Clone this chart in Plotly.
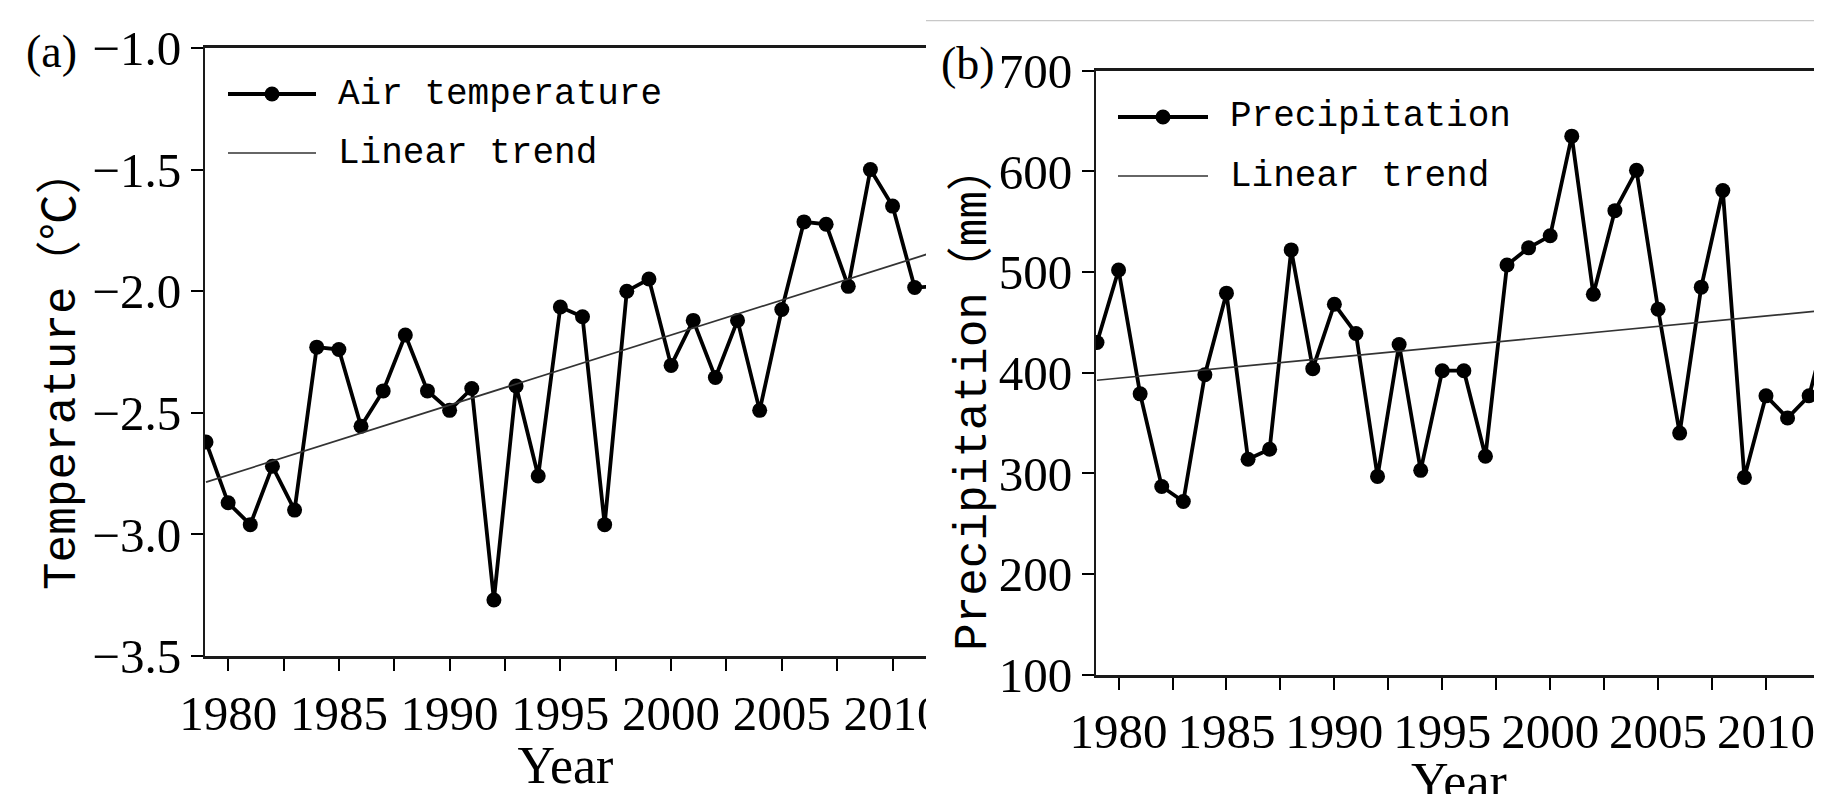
import plotly.graph_objects as go

# ---------------- data ----------------
years_a = list(range(1979, 2013))
air_temperature = [-2.62, -2.87, -2.96, -2.72, -2.90, -2.23, -2.24, -2.555, -2.41, -2.18,
                   -2.41, -2.49, -2.40, -3.27, -2.39, -2.76, -2.065, -2.105, -2.96, -2.00,
                   -1.95, -2.305, -2.12, -2.355, -2.12, -2.49, -2.075, -1.715, -1.725, -1.98,
                   -1.50, -1.65, -1.985, -1.98]
trend_a_years = [1979, 2012]
trend_a_values = [-2.785, -1.835]

years_b = list(range(1979, 2014))
precipitation = [430, 502, 379, 287, 272, 398, 479, 314, 324, 522,
                 404, 468, 439, 297, 428, 303, 402, 402, 317, 507,
                 524, 536, 635, 478, 561, 601, 463, 340, 485, 581,
                 296, 377, 355, 377, 460]
trend_b_years = [1979, 2013]
trend_b_values = [392.5, 462.5]

legend_a = ["Air temperature", "Linear trend"]
legend_b = ["Precipitation", "Linear trend"]
title_a = "Temperature（℃）"
title_b = "Precipitation（mm）"
x_title = "Year"

# ---------------- style ----------------
# the page body has an 8 px margin, so the figure starts at (8, 8) in the window
OFF = 8
W, H = 1822 - OFF, 794 - OFF
SERIF = "Liberation Serif, Times New Roman, serif"
MONO = "Liberation Mono, Noto Sans CJK SC, monospace"
TICKFONT = dict(family=SERIF, size=49, color="black")
LINE_W = 3.8
MARKER = 15


def px(x):
    return (x - OFF) / W


def py(y):
    return 1 - (y - OFF) / H


fig = go.Figure()

# panel (a)
fig.add_trace(go.Scatter(x=years_a, y=air_temperature, mode="lines+markers",
                         line=dict(color="black", width=LINE_W),
                         marker=dict(color="black", size=MARKER),
                         xaxis="x", yaxis="y", showlegend=False, name=legend_a[0]))
fig.add_trace(go.Scatter(x=trend_a_years, y=trend_a_values, mode="lines",
                         line=dict(color="#333333", width=1.7),
                         xaxis="x", yaxis="y", showlegend=False, name=legend_a[1]))
# panel (b)
fig.add_trace(go.Scatter(x=years_b, y=precipitation, mode="lines+markers",
                         line=dict(color="black", width=LINE_W),
                         marker=dict(color="black", size=MARKER),
                         xaxis="x2", yaxis="y2", showlegend=False, name=legend_b[0]))
fig.add_trace(go.Scatter(x=trend_b_years, y=trend_b_values, mode="lines",
                         line=dict(color="#333333", width=1.7),
                         xaxis="x2", yaxis="y2", showlegend=False, name=legend_b[1]))

common_x = dict(tickmode="linear", tick0=1980, dtick=5, ticks="outside", ticklen=12,
                tickwidth=1.5, tickcolor="black", showline=True, linewidth=2.6,
                linecolor="#1a1a1a", mirror=True, showgrid=False, zeroline=False,
                tickfont=TICKFONT, automargin=False,
                minor=dict(tick0=1980, dtick=2.5, ticks="outside", ticklen=12,
                           tickwidth=1.5, tickcolor="black", showgrid=False))
common_y = dict(ticks="outside", ticklen=12, tickwidth=1.5, tickcolor="black",
                showline=True, linewidth=1.7, linecolor="#1a1a1a", mirror=False,
                showgrid=False, zeroline=False, tickfont=TICKFONT, automargin=False)

fig.update_layout(
    width=W, height=H,
    margin=dict(l=0, r=0, t=0, b=0, pad=0, autoexpand=False),
    paper_bgcolor="white", plot_bgcolor="white",
    xaxis=dict(domain=[px(205), px(926)], anchor="y", range=[1978.955, 2011.51],
               title=dict(text=x_title, font=dict(family=SERIF, size=52, color="black"),
                          standoff=2),
               **common_x),
    yaxis=dict(domain=[py(656), py(48)], anchor="x", range=[-3.5, -1.0],
               tickmode="linear", tick0=-3.5, dtick=0.5, tickformat=".1f",
               **common_y),
    xaxis2=dict(domain=[px(1096), 1.0], anchor="y2", range=[1978.954, 2012.596],
                **common_x),
    yaxis2=dict(domain=[py(674.7), py(70.7)], anchor="x2", range=[100, 700],
                tickmode="linear", tick0=100, dtick=100,
                **common_y),
)

shapes = []
annotations = []


def legend_entry(x0, x1, y, label, with_marker, text_x):
    if with_marker:
        shapes.append(dict(type="line", xref="paper", yref="paper",
                           x0=px(x0), x1=px(x1), y0=py(y), y1=py(y),
                           line=dict(color="black", width=LINE_W)))
        shapes.append(dict(type="circle", xref="paper", yref="paper",
                           xsizemode="pixel", ysizemode="pixel",
                           xanchor=px((x0 + x1) / 2), yanchor=py(y),
                           x0=-7.5, x1=7.5, y0=-7.5, y1=7.5,
                           fillcolor="black", line=dict(color="black", width=0)))
    else:
        shapes.append(dict(type="line", xref="paper", yref="paper",
                           x0=px(x0), x1=px(x1), y0=py(y), y1=py(y),
                           line=dict(color="#333333", width=1.7)))
    annotations.append(dict(xref="paper", yref="paper", x=px(text_x), y=py(y),
                            text=label, showarrow=False, xanchor="left", yanchor="middle",
                            font=dict(family=MONO, size=36, color="black")))


legend_entry(228, 316, 94, legend_a[0], True, 336)
legend_entry(228, 316, 153, legend_a[1], False, 336)
legend_entry(1118, 1208, 117, legend_b[0], True, 1228)
legend_entry(1118, 1208, 176, legend_b[1], False, 1228)

# y-axis titles
annotations.append(dict(xref="paper", yref="paper", x=px(62), y=py(369), text=title_a,
                        textangle=-90, showarrow=False, xanchor="center", yanchor="middle",
                        font=dict(family=MONO, size=46, color="black")))
annotations.append(dict(xref="paper", yref="paper", x=px(973), y=py(398), text=title_b,
                        textangle=-90, showarrow=False, xanchor="center", yanchor="middle",
                        font=dict(family=MONO, size=46, color="black")))

# x-axis title of panel (b): lies at the bottom edge of the page as in the source
annotations.append(dict(xref="paper", yref="paper", x=px(1459), y=py(781), text=x_title,
                        showarrow=False, xanchor="center", yanchor="middle",
                        font=dict(family=SERIF, size=52, color="black")))

# panel letters
annotations.append(dict(xref="paper", yref="paper", x=px(51), y=py(52), text="(a)",
                        showarrow=False, xanchor="center", yanchor="middle",
                        font=dict(family=SERIF, size=46, color="black")))
annotations.append(dict(xref="paper", yref="paper", x=px(968), y=py(64), text="(b)",
                        showarrow=False, xanchor="center", yanchor="middle",
                        font=dict(family=SERIF, size=46, color="black")))

# page edge of the right-hand figure: separator line and cover for overflow of panel (a)
shapes.append(dict(type="rect", xref="paper", yref="paper", layer="above",
                   x0=px(926), x1=px(952), y0=0, y1=py(662),
                   fillcolor="white", line=dict(width=0)))
shapes.append(dict(type="line", xref="paper", yref="paper",
                   x0=px(926), x1=1.0, y0=py(20.7), y1=py(20.7),
                   line=dict(color="#c8c8c8", width=1.2)))

fig.update_layout(shapes=shapes, annotations=annotations)
fig.write_html("out.html")
